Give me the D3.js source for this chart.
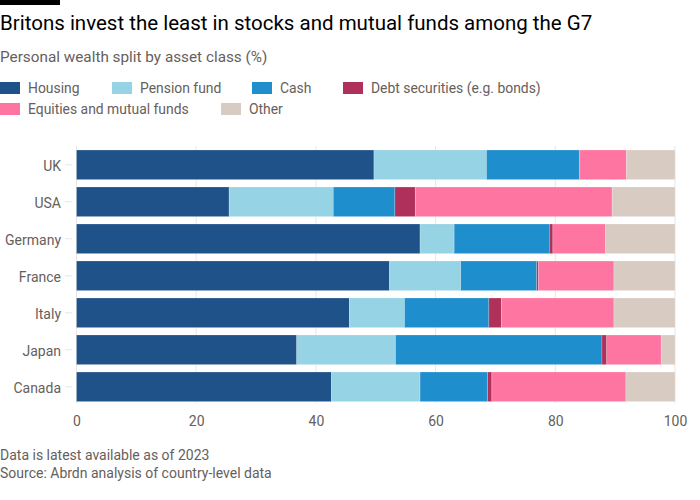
<!DOCTYPE html>
<html><head><meta charset="utf-8">
<script src="https://cdn.jsdelivr.net/npm/d3@7"></script>
<style>body{margin:0;background:#fff}svg{display:block}text{font-family:Roboto,"Noto Sans",sans-serif}</style>
</head><body><svg id="c" width="700" height="500"></svg>
<script>
const countries = ["UK","USA","Germany","France","Italy","Japan","Canada"];
const seriesNames = ["Housing","Pension fund","Cash","Debt securities (e.g. bonds)","Equities and mutual funds","Other"];
const housing   = [49.7, 25.5, 57.4, 52.3, 45.6, 36.8, 42.6];
const pension   = [18.8, 17.4,  5.7, 11.9,  9.2, 16.5, 14.8];
const cash      = [15.5, 10.3, 15.9, 12.7, 14.1, 34.5, 11.3];
const debt      = [ 0.1,  3.4,  0.6,  0.3,  2.1,  0.8,  0.7];
const equities  = [ 7.8, 32.9,  8.8, 12.6, 18.8,  9.1, 22.4];
const other     = [ 8.1, 10.5, 11.6, 10.2, 10.2,  2.3,  8.2];
const xTicks = [0,20,40,60,80,100];
const colors = ["#1f5289","#96d3e5","#1f8ecd","#b0305c","#ff75a1","#d8cbc1"];

const keys = ["housing","pension","cash","debt","equities","other"];
const cols = [housing,pension,cash,debt,equities,other];
const rows = countries.map((c,i)=>{const o={country:c};keys.forEach((k,j)=>o[k]=cols[j][i]);return o;});

const svg = d3.select("#c");
svg.append("rect").attr("x",0).attr("y",0).attr("width",60).attr("height",5).attr("fill","#000");
svg.append("text").attr("x",0).attr("y",30).attr("font-size",20.5).attr("fill","#000")
  .text("Britons invest the least in stocks and mutual funds among the G7");
svg.append("text").attr("x",0).attr("y",62).attr("font-size",15.3).attr("fill","#66605c")
  .text("Personal wealth split by asset class (%)");

const legendPos = [[0,88],[112,88],[252,88],[343,88],[0,109],[221,109]];
seriesNames.forEach((n,i)=>{
  const g = svg.append("g").attr("transform",`translate(${legendPos[i][0]},${legendPos[i][1]})`);
  g.append("rect").attr("x",0).attr("y",-6).attr("width",20).attr("height",12).attr("fill",colors[i]);
  g.append("text").attr("x",28).attr("y",5).attr("font-size",13.9).attr("fill","#66605c").text(n);
});

const x = d3.scaleLinear().domain([0,100]).range([76.5,675]);
const y = d3.scaleBand().domain(countries).range([146.3,405.3]).paddingInner(0.2).paddingOuter(0.1);

// gridlines
svg.append("g").selectAll("line").data(xTicks).join("line")
  .attr("x1",d=>x(d)).attr("x2",d=>x(d)).attr("y1",146).attr("y2",403)
  .attr("stroke","#e9e6e3").attr("stroke-width",1);

const stack = d3.stack().keys(keys)(rows);
svg.append("g").selectAll("g").data(stack).join("g").attr("fill",(d,i)=>colors[i])
  .selectAll("rect").data(d=>d).join("rect")
  .attr("x",d=>x(d[0])).attr("width",d=>x(d[1])-x(d[0]))
  .attr("y",d=>y(d.data.country)).attr("height",y.bandwidth())
  .attr("stroke","rgba(255,255,255,0.35)").attr("stroke-width",0.6);

// y axis
const ya = svg.append("g").attr("transform","translate(72,0)")
  .call(d3.axisLeft(y).tickSize(7).tickPadding(4));
ya.select(".domain").remove();
ya.selectAll("line").attr("stroke","#e9e6e3");
ya.selectAll("text").attr("font-size",14).attr("fill","#66605c").attr("font-family","Roboto,sans-serif").attr("dy","0.45em");

// x axis
const xa = svg.append("g").attr("transform","translate(0,405)")
  .call(d3.axisBottom(x).tickValues(xTicks).tickSize(0).tickPadding(11));
xa.select(".domain").remove();
xa.selectAll("text").attr("font-size",14).attr("fill","#66605c").attr("font-family","Roboto,sans-serif");

svg.append("text").attr("x",0).attr("y",460).attr("font-size",14).attr("fill","#66605c")
  .text("Data is latest available as of 2023");
svg.append("text").attr("x",0).attr("y",478).attr("font-size",14).attr("fill","#66605c")
  .text("Source: Abrdn analysis of country-level data");
</script></body></html>
